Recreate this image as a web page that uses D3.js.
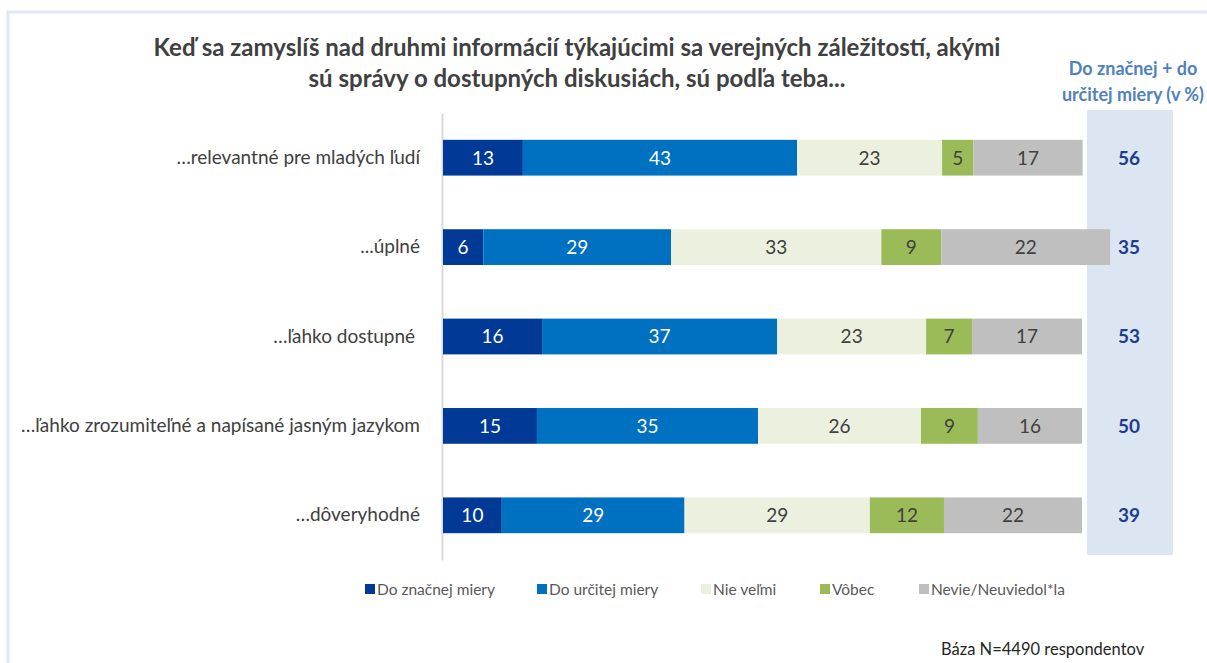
<!DOCTYPE html>
<html>
<head>
<meta charset="utf-8">
<script src="https://cdn.jsdelivr.net/npm/d3@7"></script>
<style>
  body { margin: 0; background: #fff; }
  svg { font-family: Lato, "Open Sans", sans-serif; }
  .tick text { white-space: pre; }
</style>
</head>
<body>
<div id="chart"></div>
<script>
// Data
var categories = [
  "…relevantné pre mladých ľudí",
  "...úplné",
  "…ľahko dostupné ",
  "…ľahko zrozumiteľné a napísané jasným jazykom",
  "…dôveryhodné"
];
var seriesNames = ["Do značnej miery", "Do určitej miery", "Nie veľmi", "Vôbec", "Nevie/Neuviedol*la"];
var seriesColors = ["#003a96", "#0070c0", "#ebf1de", "#9bbb59", "#bfbfbf"];
var labelColors = ["#ffffff", "#ffffff", "#404040", "#404040", "#404040"];

// bar lengths as drawn (per row, per series)
var barValues = [
  [12.5, 42.9, 22.7, 4.9, 17.1],
  [6.3, 29.4, 32.9, 9.4, 26.4],
  [15.5, 36.8, 23.3, 7.2, 17.2],
  [14.7, 34.6, 25.5, 8.9, 16.3],
  [9.2, 28.6, 29.0, 11.6, 21.6]
];
// printed labels
var barLabels = [
  [13, 43, 23, 5, 17],
  [6, 29, 33, 9, 22],
  [16, 37, 23, 7, 17],
  [15, 35, 26, 9, 16],
  [10, 29, 29, 12, 22]
];
var totals = [56, 35, 53, 50, 39];

var titleLines = [
  "Keď sa zamyslíš nad druhmi informácií týkajúcimi sa verejných záležitostí, akými",
  "sú správy o dostupných diskusiách, sú podľa teba..."
];
var sideHeader = ["Do značnej + do", "určitej miery (v %)"];
var footnote = "Báza N=4490 respondentov";

// Dimensions
var width = 1207, height = 663;
var plotLeft = 443, plotRight = 1082;
var plotTop = 113, plotBottom = 560;

var svg = d3.select("#chart").append("svg")
  .attr("width", width)
  .attr("height", height);

// frame lines
svg.append("path")
  .attr("d", "M8,663 V12 H1207")
  .attr("fill", "none")
  .attr("stroke", "#dfe9f5")
  .attr("stroke-width", 3);

// Scales
var x = d3.scaleLinear().domain([0, 100]).range([plotLeft, plotRight]);
var y = d3.scaleBand().domain(categories).range([plotTop, plotBottom]).paddingInner(0.6).paddingOuter(0.3);

// side panel
svg.append("rect")
  .attr("x", 1087).attr("y", 110)
  .attr("width", 86).attr("height", 445)
  .attr("fill", "#dce6f2");

// Title
svg.append("g").selectAll("text").data(titleLines).enter().append("text")
  .attr("x", 577)
  .attr("y", function(d, i) { return 56 + i * 31; })
  .attr("text-anchor", "middle")
  .attr("font-size", 24)
  .attr("font-weight", "bold")
  .attr("fill", "#404040")
  .text(function(d) { return d; });

svg.append("g").selectAll("text").data(sideHeader).enter().append("text")
  .attr("x", 1133)
  .attr("y", function(d, i) { return 75 + i * 26; })
  .attr("text-anchor", "middle")
  .attr("font-size", 18)
  .attr("font-weight", "bold")
  .attr("fill", "#4f81bd")
  .text(function(d) { return d; });

// Axis (left, no ticks)
var yAxis = d3.axisLeft(y).tickSize(0).tickPadding(22);
var yAxisG = svg.append("g")
  .attr("transform", "translate(" + (plotLeft - 1) + ",0)")
  .call(yAxis);
yAxisG.select(".domain").attr("stroke", "#d9d9d9").attr("stroke-width", 2);
yAxisG.selectAll(".tick text")
  .attr("font-size", 19)
  .attr("fill", "#404040")
  .style("font-family", "Lato, sans-serif");

// Bars
var rows = svg.append("g").selectAll("g").data(categories).enter().append("g");

rows.each(function(cat, r) {
  var g = d3.select(this);
  var cum = 0;
  var segs = barValues[r].map(function(v, s) {
    var seg = { x0: cum, x1: cum + v, s: s, label: barLabels[r][s] };
    cum += v;
    return seg;
  });
  g.selectAll("rect").data(segs).enter().append("rect")
    .attr("x", function(d) { return x(d.x0); })
    .attr("y", y(cat))
    .attr("width", function(d) { return x(d.x1) - x(d.x0); })
    .attr("height", y.bandwidth())
    .attr("fill", function(d) { return seriesColors[d.s]; });
  g.selectAll("text").data(segs).enter().append("text")
    .attr("x", function(d) { return (x(d.x0) + x(d.x1)) / 2; })
    .attr("y", y(cat) + y.bandwidth() / 2)
    .attr("dy", "0.36em")
    .attr("text-anchor", "middle")
    .attr("font-size", 19)
    .attr("fill", function(d) { return labelColors[d.s]; })
    .text(function(d) { return d.label; });
});

// Totals
svg.append("g").selectAll("text").data(totals).enter().append("text")
  .attr("x", 1129)
  .attr("y", function(d, i) { return y(categories[i]) + y.bandwidth() / 2; })
  .attr("dy", "0.36em")
  .attr("text-anchor", "middle")
  .attr("font-size", 19)
  .attr("font-weight", "bold")
  .attr("fill", "#1f3d8f")
  .text(function(d) { return d; });

// Legend
var legendX = [365, 537, 701, 820, 919];
var legend = svg.append("g").selectAll("g").data(seriesNames).enter().append("g")
  .attr("transform", function(d, i) { return "translate(" + legendX[i] + ",589)"; });
legend.append("rect")
  .attr("x", 0).attr("y", -5)
  .attr("width", 10).attr("height", 10)
  .attr("fill", function(d, i) { return seriesColors[i]; });
legend.append("text")
  .attr("x", 12)
  .attr("dy", "0.36em")
  .attr("font-size", 15.5)
  .attr("fill", "#595959")
  .text(function(d) { return d; });

// Footnote
svg.append("text")
  .attr("x", 941).attr("y", 655)
  .attr("font-size", 16.5)
  .attr("fill", "#262626")
  .text(footnote);
</script>
</body>
</html>
